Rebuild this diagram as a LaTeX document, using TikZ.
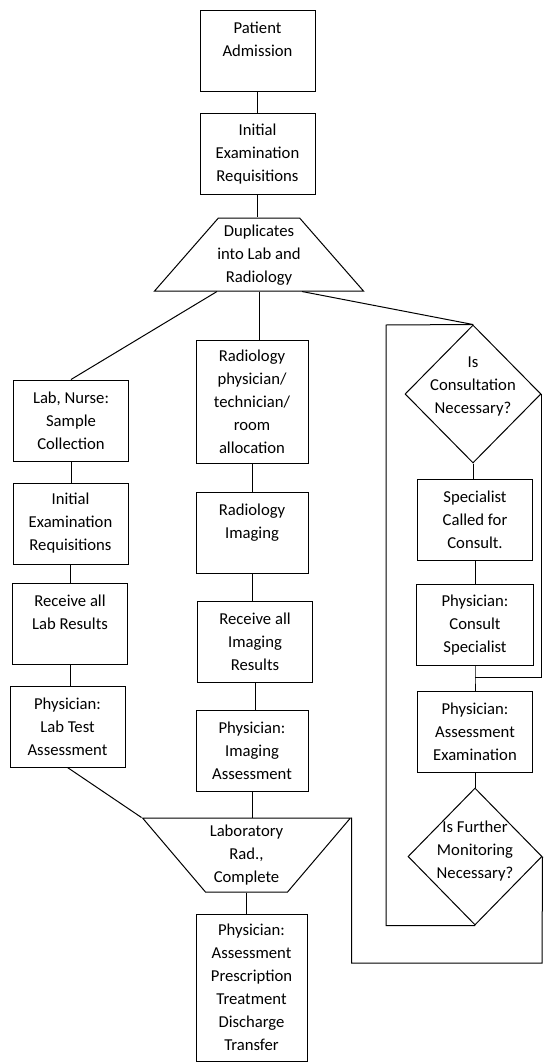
\documentclass[tikz,border=0pt]{standalone}
\usepackage{fontspec}
\setmainfont{Carlito}
\usetikzlibrary{shapes.geometric}

\newcommand{\flowfont}{\fontsize{12.5}{17.25}\selectfont}

\tikzset{every picture/.style={line width=0.75pt}}
\tikzset{
  flowbox/.style={draw, inner sep=0.75pt, minimum width=86.25pt, minimum height=60.75pt, align=center, font=\flowfont},
  flowtxt/.style={inner sep=0.75pt, align=center, font=\flowfont},
  flowtrap/.style={draw, trapezium, trapezium stretches=true, inner sep=0pt},
  flowdiam/.style={draw, diamond, inner sep=0pt}
}

\begin{document}
\begin{tikzpicture}[x=0.75pt,y=0.75pt,yscale=-1,xscale=1]
    \useasboundingbox (0,0) rectangle (544,1063);
    % Top Boxes
    \node [flowbox] (admit) at (257.5,51) {Patient\\Admission\\~};
    \node [flowbox] (initreq) at (257.5,154) {Initial\\Examination\\Requisitions};
    % Shape: Trapezoid
    \node [flowtrap, trapezium left angle=54.5, trapezium right angle=54.5, minimum width=156.75pt, minimum height=54.75pt] (dup) at (259,254.5) {\phantom{x}};
    \node [flowtxt] (duptxt) at (259,255) {Duplicates\\into Lab and\\Radiology};
    % Lab Column
    \node [flowbox] (nurse) at (71,420.5) {Lab, Nurse:\\Sample\\Collection};
    \node [flowbox] (labreq) at (70.5,523.5) {Initial\\Examination\\Requisitions};
    \node [flowbox] (labres) at (70,624) {Receive all\\Lab Results\\~};
    \node [flowbox] (labass) at (67.5,726.5) {Physician:\\Lab Test\\Assessment};
    % Radiology Column
    \node [flowbox, minimum width=84pt, minimum height=92.25pt] (radalloc) at (252,401.5) {Radiology\\physician/\\technician/\\room\\allocation};
    \node [flowbox, minimum width=84pt] (radimg) at (252,532.5) {Radiology\\Imaging\\~};
    \node [flowbox] (radres) at (255,642) {Receive all\\Imaging\\Results};
    \node [flowbox, minimum width=84pt] (radass) at (252,750.5) {Physician:\\Imaging\\Assessment};
    % Shape: Trapezoid
    \node [flowtrap, trapezium left angle=124.8, trapezium right angle=124.8, minimum width=156pt, minimum height=55.5pt] (done) at (246.5,855) {\phantom{x}};
    \node [flowtxt] (donetxt) at (246.5,855) {Laboratory\\Rad.,\\Complete};
    \node [flowbox, minimum width=83.25pt, minimum height=110.25pt] (final) at (251.5,987.5) {Physician:\\Assessment\\Prescription\\Treatment\\Discharge\\Transfer};
    % Consultation Column
    \node [flowdiam, minimum width=102pt, minimum height=103.5pt] (consult) at (473,394) {\phantom{x}};
    \node [flowtxt] (consulttxt) at (473,386) {Is\\Consultation\\Necessary?};
    \node [flowbox] (spec) at (475,520) {Specialist\\Called for\\Consult.};
    \node [flowbox, minimum width=87.75pt] (physcon) at (475,625) {Physician:\\Consult\\Specialist};
    \node [flowbox] (physass) at (475,732) {Physician:\\Assessment\\Examination};
    \node [flowdiam, minimum width=100.5pt, minimum height=102.75pt] (monitor) at (475,856.5) {\phantom{x}};
    \node [flowtxt] (monitortxt) at (475,851) {Is Further\\Monitoring\\Necessary?};
    % Corner Points
    \coordinate (cjoin) at (475,677);
    \coordinate (cloop) at (386,325);
    \coordinate (cret) at (542,963);
    % Straight Lines
    \draw (admit.south) -- (admit.south |- initreq.north);
    \draw (initreq.south) -- (initreq.south |- dup.north);
    \draw ([xshift=-31.5pt]dup.south) -- (nurse.north);
    \draw (dup.south) -- (dup.south |- radalloc.north);
    \draw ([xshift=32.25pt]dup.south) -- (consult.north);
    \draw (nurse.south) -- (nurse.south |- labreq.north);
    \draw (labreq.south) -- (labreq.south |- labres.north);
    \draw (labres.south) -- (labres.south |- labass.north);
    \draw (labass.south) -- (done.top left corner);
    \draw (radalloc.south) -- (radimg.north);
    \draw (radimg.south) -- (radimg.south |- radres.north);
    \draw (radres.south) -- (radres.south |- radass.north);
    \draw (radass.south) -- (radass.south |- done.north);
    \draw (done.south) -- (done.south |- final.north);
    \draw (consult.south) -- (consult.south |- spec.north);
    \draw (spec.south) -- (physcon.north);
    \draw (physcon.south) -- (cjoin) -- (physass.north);
    \draw (consult.east) |- (cjoin);
    \draw (physass.south) -- (monitor.north);
    \draw (monitor.south) -| (cloop) -- (consult.north);
    \draw (done.top right corner) |- (cret) -- (monitor.east);
\end{tikzpicture}
\end{document}
